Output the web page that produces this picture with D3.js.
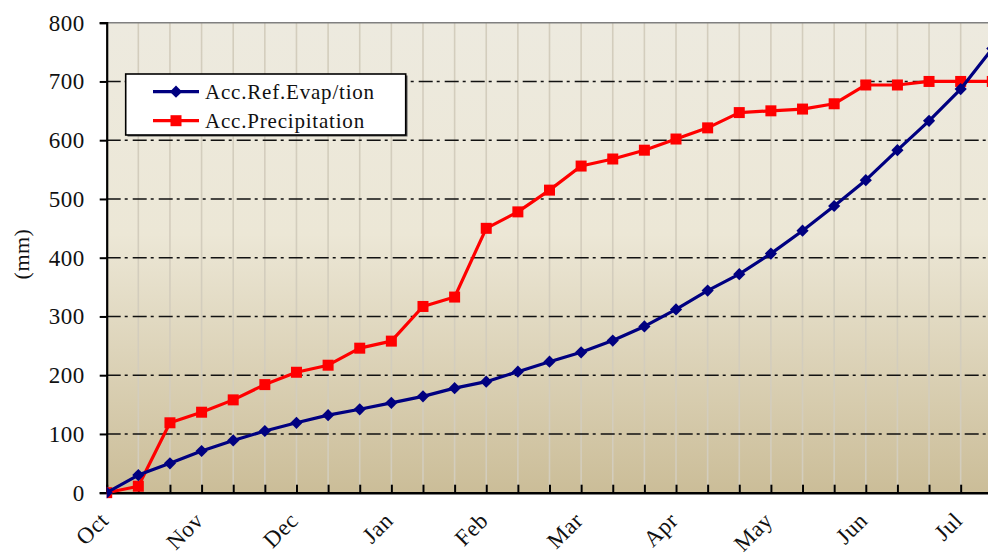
<!DOCTYPE html>
<html>
<head>
<meta charset="utf-8">
<script src="https://cdn.jsdelivr.net/npm/d3@7"></script>
<style>
  html, body { margin: 0; padding: 0; background: #fff; }
  svg { display: block; }
  text { font-family: "Book Antiqua", "Palatino Linotype", "Liberation Serif", serif; fill: #111; }
</style>
</head>
<body>
<svg id="chart" width="988" height="555"></svg>
<script>
// ---- data (10-day accumulated values, mm) ----
const periods = d3.range(29); // dekad index from 1 Oct
const monthLabels = ["Oct","Nov","Dec","Jan","Feb","Mar","Apr","May","Jun","Jul"];
const evapValues = [0, 30, 50, 71, 89, 105, 119, 132, 142, 153, 164, 178, 189, 206, 223, 239, 259, 283, 312, 344, 372, 407, 446, 488, 532, 583, 633, 687, 756];
const precipValues = [0, 11, 119, 137, 158, 184, 205, 217, 246, 258, 317, 333, 450, 478, 515, 556, 568, 583, 602, 621, 647, 650, 653, 662, 694, 694, 700, 700, 700];
const yTicks = [0, 100, 200, 300, 400, 500, 600, 700, 800];
const seriesNames = ["Acc.Ref.Evap/tion", "Acc.Precipitation"];

(function () {
const svg = d3.select("#chart");
const pLeft = 106.7, pTop = 22.7, pBottom = 492.7, pRight = 1010;

const x = d3.scaleLinear().domain([0, 28]).range([pLeft, 992.3]);
const y = d3.scaleLinear().domain([0, 800]).range([pBottom, pTop]);

// background gradient
const defs = svg.append("defs");
const grad = defs.append("linearGradient").attr("id", "bg").attr("x1", 0).attr("y1", 0).attr("x2", 0).attr("y2", 1);
grad.append("stop").attr("offset", "0").attr("stop-color", "#edeadf");
grad.append("stop").attr("offset", "0.45").attr("stop-color", "#ece7d6");
grad.append("stop").attr("offset", "1").attr("stop-color", "#cbbd98");
defs.append("clipPath").attr("id", "clip").append("rect")
  .attr("x", pLeft).attr("y", pTop - 6).attr("width", pRight - pLeft).attr("height", pBottom - pTop + 12);

svg.append("rect").attr("x", pLeft).attr("y", pTop).attr("width", pRight - pLeft).attr("height", pBottom - pTop)
  .attr("fill", "url(#bg)");

// vertical grid lines
svg.append("g").selectAll("line").data(periods.filter(d => d > 0)).join("line")
  .attr("x1", d => x(d)).attr("x2", d => x(d)).attr("y1", pTop).attr("y2", pBottom)
  .attr("stroke", "#d3cdbd").attr("stroke-width", 1.6);

// horizontal dash-dot grid lines
svg.append("g").selectAll("line").data(yTicks.filter(d => d > 0 && d < 800)).join("line")
  .attr("x1", pLeft).attr("x2", pRight).attr("y1", d => y(d)).attr("y2", d => y(d))
  .attr("stroke", "#111").attr("stroke-width", 1.6).attr("stroke-dasharray", "14,4,3,5");

// top border
svg.append("line").attr("x1", pLeft).attr("x2", pRight).attr("y1", pTop).attr("y2", pTop)
  .attr("stroke", "#808080").attr("stroke-width", 1.5);

// y axis
const yAxis = svg.append("g").attr("transform", `translate(${pLeft},0)`)
  .call(d3.axisLeft(y).tickValues(yTicks).tickSize(7).tickPadding(15).tickFormat(d3.format("d")));
yAxis.select(".domain").attr("stroke", "#000").attr("stroke-width", 2.2);
yAxis.selectAll(".tick line").attr("stroke", "#000").attr("stroke-width", 2);
yAxis.selectAll(".tick text").style("font-size", "23px").attr("fill", "#111")
  .style("letter-spacing", "0.5px")
  .style("font-family", "'Book Antiqua','Palatino Linotype','Liberation Serif',serif");

// x axis (ticks inside)
const xAxis = svg.append("g").attr("transform", `translate(0,${pBottom})`)
  .call(d3.axisBottom(x).tickValues(periods).tickSizeInner(-8).tickSizeOuter(0).tickFormat(""));
xAxis.select(".domain").attr("stroke", "#000").attr("stroke-width", 2.4);
xAxis.selectAll(".tick line").attr("stroke", "#000").attr("stroke-width", 2);

// month labels
svg.append("g").selectAll("text").data(monthLabels).join("text")
  .attr("transform", (d, i) => `translate(${x(i * 3) - 9},${pBottom + 17}) rotate(-45)`)
  .attr("text-anchor", "end").attr("dy", "0.75em")
  .style("font-size", "23px").style("letter-spacing", "0.5px").text(d => d);

// y axis title
svg.append("text").attr("transform", `translate(29,254) rotate(-90)`)
  .attr("text-anchor", "middle").style("font-size", "22px").style("letter-spacing", "0.5px").text("(mm)");

// series
const plot = svg.append("g").attr("clip-path", "url(#clip)");
const line = d3.line().x((d, i) => x(i)).y(d => y(d));

plot.append("path").datum(precipValues).attr("d", line)
  .attr("fill", "none").attr("stroke", "#ff0000").attr("stroke-width", 3.2).attr("stroke-linejoin", "round");
plot.append("g").selectAll("rect").data(precipValues).join("rect")
  .attr("x", (d, i) => x(i) - 5.5).attr("y", d => y(d) - 5.5).attr("width", 11).attr("height", 11)
  .attr("fill", "#ff0000");

plot.append("path").datum(evapValues).attr("d", line)
  .attr("fill", "none").attr("stroke", "#000080").attr("stroke-width", 3.2).attr("stroke-linejoin", "round");
const diamond = d3.symbol().type(d3.symbolDiamond2).size(95);
plot.append("g").selectAll("path").data(evapValues).join("path")
  .attr("transform", (d, i) => `translate(${x(i)},${y(d)})`)
  .attr("d", diamond).attr("fill", "#000080");

// legend
const lg = svg.append("g");
lg.append("rect").attr("x", 127.5).attr("y", 75.5).attr("width", 280).attr("height", 61).attr("fill", "#555");
lg.append("rect").attr("x", 125.7).attr("y", 74).attr("width", 280).attr("height", 61)
  .attr("fill", "#fff").attr("stroke", "#000").attr("stroke-width", 1.6);
const legendColors = ["#000080", "#ff0000"];
const legendRows = [91.7, 120.7];
seriesNames.forEach((name, i) => {
  const ry = legendRows[i];
  lg.append("line").attr("x1", 153).attr("x2", 199).attr("y1", ry).attr("y2", ry)
    .attr("stroke", legendColors[i]).attr("stroke-width", 3.2);
  if (i === 0) {
    lg.append("path").attr("transform", `translate(176,${ry})`).attr("d", diamond).attr("fill", legendColors[i]);
  } else {
    lg.append("rect").attr("x", 170.5).attr("y", ry - 5.5).attr("width", 11).attr("height", 11).attr("fill", legendColors[i]);
  }
  lg.append("text").attr("x", 205).attr("y", ry).attr("dy", "0.35em")
    .style("font-size", "21px").style("letter-spacing", "0.8px").text(name);
});
})();
</script>
</body>
</html>
